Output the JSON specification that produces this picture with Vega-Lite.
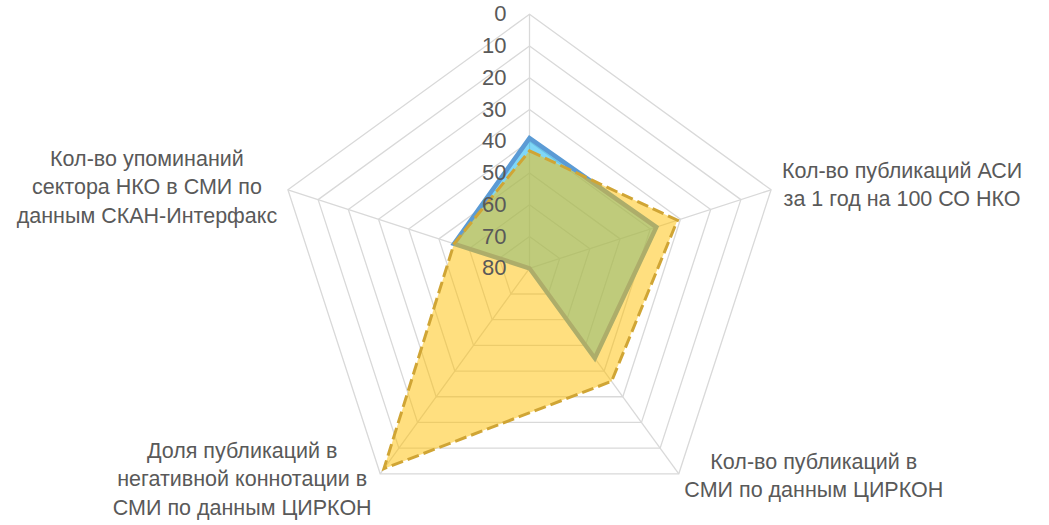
{
  "$schema": "https://vega.github.io/schema/vega-lite/v6.json",
  "width": 1049,
  "height": 525,
  "autosize": {"type": "none"},
  "padding": 0,
  "background": "white",
  "config": {"view": {"stroke": null}},
  "datasets": {
    "series": [
      {"series": "Ряд 1", "k": 0, "value": 39},
      {"series": "Ряд 1", "k": 1, "value": 38},
      {"series": "Ряд 1", "k": 2, "value": 45},
      {"series": "Ряд 1", "k": 3, "value": 80},
      {"series": "Ряд 1", "k": 4, "value": 55},
      {"series": "Ряд 2", "k": 0, "value": 43},
      {"series": "Ряд 2", "k": 1, "value": 31},
      {"series": "Ряд 2", "k": 2, "value": 36},
      {"series": "Ряд 2", "k": 3, "value": 2},
      {"series": "Ряд 2", "k": 4, "value": 55}
    ],
    "axes": [
      {"k": 0, "label": ""},
      {"k": 1, "label": "Кол-во публикаций АСИ\nза 1 год на 100 СО НКО"},
      {"k": 2, "label": "Кол-во публикаций в\nСМИ по данным ЦИРКОН"},
      {"k": 3, "label": "Доля публикаций в\nнегативной коннотации в\nСМИ по данным ЦИРКОН"},
      {"k": 4, "label": "Кол-во упоминаний\nсектора НКО в СМИ по\nданным СКАН-Интерфакс"}
    ],
    "rings": [
      {"ring": 0, "k": [0, 1, 2, 3, 4]},
      {"ring": 10, "k": [0, 1, 2, 3, 4]},
      {"ring": 20, "k": [0, 1, 2, 3, 4]},
      {"ring": 30, "k": [0, 1, 2, 3, 4]},
      {"ring": 40, "k": [0, 1, 2, 3, 4]},
      {"ring": 50, "k": [0, 1, 2, 3, 4]},
      {"ring": 60, "k": [0, 1, 2, 3, 4]},
      {"ring": 70, "k": [0, 1, 2, 3, 4]}
    ],
    "ticks": [
      {"tick": 0}, {"tick": 10}, {"tick": 20}, {"tick": 30}, {"tick": 40},
      {"tick": 50}, {"tick": 60}, {"tick": 70}, {"tick": 80}
    ]
  },
  "layer": [
    {
      "data": {"name": "rings"},
      "transform": [
        {"flatten": ["k"]},
        {"calculate": "80 - datum.ring", "as": "r"},
        {"calculate": "datum.r * sin(datum.k * 2 * PI / 5)", "as": "x"},
        {"calculate": "datum.r * cos(datum.k * 2 * PI / 5)", "as": "y"}
      ],
      "mark": {"type": "line", "interpolate": "linear-closed", "stroke": "#d9d9d9", "strokeWidth": 1.3},
      "encoding": {
        "x": {"field": "x", "type": "quantitative", "scale": {"domain": [-166.77, 163.62], "nice": false, "zero": false}, "axis": null},
        "y": {"field": "y", "type": "quantitative", "scale": {"domain": [-80.85, 84.5], "nice": false, "zero": false}, "axis": null},
        "detail": {"field": "ring", "type": "nominal"},
        "order": {"field": "k", "type": "quantitative"}
      }
    },
    {
      "data": {"name": "axes"},
      "transform": [
        {"calculate": "80 * sin(datum.k * 2 * PI / 5)", "as": "x"},
        {"calculate": "80 * cos(datum.k * 2 * PI / 5)", "as": "y"},
        {"calculate": "0", "as": "x0"},
        {"calculate": "0", "as": "y0"}
      ],
      "mark": {"type": "rule", "stroke": "#d9d9d9", "strokeWidth": 1.3},
      "encoding": {
        "x": {"field": "x0", "type": "quantitative"},
        "y": {"field": "y0", "type": "quantitative"},
        "x2": {"field": "x"},
        "y2": {"field": "y"}
      }
    },
    {
      "data": {"name": "series"},
      "transform": [
        {"filter": "datum.series == 'Ряд 1'"},
        {"calculate": "80 - datum.value", "as": "r"},
        {"calculate": "datum.r * sin(datum.k * 2 * PI / 5)", "as": "x"},
        {"calculate": "datum.r * cos(datum.k * 2 * PI / 5)", "as": "y"}
      ],
      "mark": {"type": "line", "interpolate": "linear-closed", "stroke": "#5B9BD5", "strokeWidth": 4.5, "strokeJoin": "miter", "fill": "#00B0F0", "fillOpacity": 0.5},
      "encoding": {
        "x": {"field": "x", "type": "quantitative"},
        "y": {"field": "y", "type": "quantitative"},
        "order": {"field": "k", "type": "quantitative"}
      }
    },
    {
      "data": {"name": "series"},
      "transform": [
        {"filter": "datum.series == 'Ряд 2'"},
        {"calculate": "80 - datum.value", "as": "r"},
        {"calculate": "datum.r * sin(datum.k * 2 * PI / 5)", "as": "x"},
        {"calculate": "datum.r * cos(datum.k * 2 * PI / 5)", "as": "y"}
      ],
      "mark": {"type": "line", "interpolate": "linear-closed", "stroke": "#D0A535", "strokeWidth": 3, "strokeDash": [12, 5], "strokeJoin": "miter", "fill": "#FFC000", "fillOpacity": 0.5},
      "encoding": {
        "x": {"field": "x", "type": "quantitative"},
        "y": {"field": "y", "type": "quantitative"},
        "order": {"field": "k", "type": "quantitative"}
      }
    },
    {
      "data": {"name": "ticks"},
      "transform": [
        {"calculate": "0", "as": "x"},
        {"calculate": "80 - datum.tick", "as": "y"}
      ],
      "mark": {"type": "text", "align": "right", "baseline": "middle", "dx": -23, "font": "Liberation Sans", "fontSize": 22, "fill": "#595959"},
      "encoding": {
        "x": {"field": "x", "type": "quantitative"},
        "y": {"field": "y", "type": "quantitative"},
        "text": {"field": "tick", "type": "quantitative"}
      }
    },
    {
      "data": {"name": "axes"},
      "transform": [
        {"calculate": "80 * sin(datum.k * 2 * PI / 5)", "as": "x"},
        {"calculate": "80 * cos(datum.k * 2 * PI / 5)", "as": "y"}
      ],
      "mark": {
        "type": "text",
        "align": "center",
        "baseline": "middle",
        "lineBreak": "\n",
        "lineHeight": 28.5,
        "font": "Liberation Sans",
        "fontSize": 21.5,
        "fill": "#595959",
        "dx": {"expr": "[0, 131, 135, -138, -141][datum.k]"},
        "dy": {"expr": "[0, -18, -11, -22, -30][datum.k]"}
      },
      "encoding": {
        "x": {"field": "x", "type": "quantitative"},
        "y": {"field": "y", "type": "quantitative"},
        "text": {"field": "label", "type": "nominal"}
      }
    }
  ]
}
